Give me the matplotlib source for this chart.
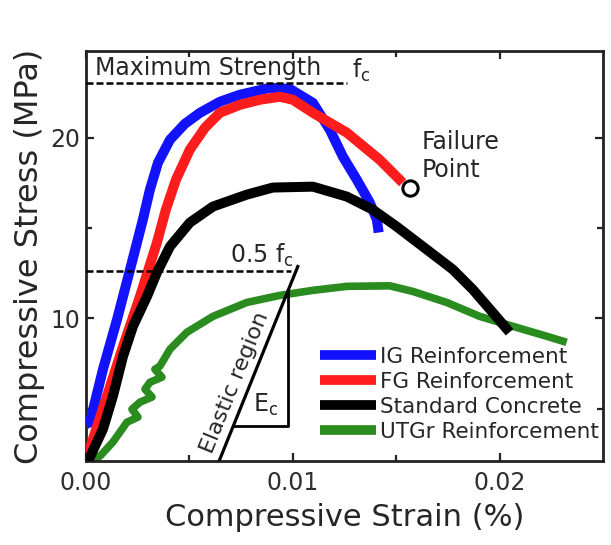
import matplotlib
matplotlib.use("Agg")
import matplotlib.pyplot as plt

# stress-strain curves (strain in %, stress in MPa)
ig_strain = [0.0, 0.00019, 0.00082, 0.0015, 0.00213, 0.00275, 0.00309, 0.00348, 0.00406,
             0.00478, 0.00551, 0.00647, 0.00744, 0.00889, 0.00986, 0.01097, 0.01179,
             0.01242, 0.01309, 0.01372, 0.01406, 0.01415]
ig_stress = [4.14, 4.25, 7.18, 9.94, 12.71, 15.47, 17.13, 18.62, 19.89,
             20.77, 21.38, 21.99, 22.38, 22.76, 22.70, 21.93, 20.44,
             18.95, 17.68, 16.41, 15.47, 14.75]

fg_strain = [0.0, 0.0001, 0.00101, 0.00179, 0.00261, 0.00343, 0.00386, 0.00435, 0.00502,
             0.00575, 0.00647, 0.00744, 0.0084, 0.00937, 0.01000, 0.01097, 0.01261,
             0.0142, 0.01531]
fg_stress = [2.30, 2.49, 5.69, 8.45, 11.22, 14.20, 16.02, 17.68, 19.34,
             20.55, 21.38, 21.82, 22.10, 22.27, 22.10, 21.38, 20.28,
             18.78, 17.51]

sc_strain = [0.0001, 0.00082, 0.0013, 0.00179, 0.00227, 0.00295, 0.00343, 0.00406, 0.00502,
             0.00614, 0.00778, 0.00903, 0.01097, 0.01261, 0.01386, 0.01502, 0.01628,
             0.01773, 0.0187, 0.01966, 0.02048]
sc_stress = [2.10, 3.87, 5.69, 7.90, 9.56, 11.22, 12.54, 13.98, 15.30,
             16.19, 16.85, 17.24, 17.29, 16.74, 16.02, 15.08, 13.98,
             12.71, 11.60, 10.33, 9.23]

utgr_strain = [0.00029, 0.00068, 0.0013, 0.00198, 0.00251, 0.00222, 0.00261, 0.00319,
               0.00285, 0.00309, 0.00367, 0.00333, 0.00357, 0.00406, 0.00488, 0.00614,
               0.00778, 0.00937, 0.01097, 0.01261, 0.01469, 0.0158, 0.01744, 0.01903,
               0.02063, 0.02227, 0.02324]
utgr_stress = [2.10, 2.38, 3.15, 4.25, 4.53, 4.97, 5.36, 5.64,
               6.08, 6.46, 6.74, 7.18, 7.35, 8.29, 9.23, 10.11,
               10.88, 11.27, 11.55, 11.77, 11.80, 11.49, 10.88, 10.11,
               9.56, 9.01, 8.67]

labels = ["IG Reinforcement", "FG Reinforcement", "Standard Concrete", "UTGr Reinforcement"]

# annotation values
max_strength = 23.05
half_strength = 12.62
failure_strain = 0.01565
failure_stress = 17.24
elastic_strain = [0.00640, 0.01024]
elastic_stress = [2.0, 12.87]
tri_strain = 0.00976
tri_stress = 4.03

plt.rcParams["font.family"] = ["DejaVu Sans"]
txt = "#262626"

fig = plt.figure(figsize=(6.11, 5.45), dpi=100)
ax = fig.add_axes([0.1408, 0.1541, 0.8462, 0.7523])

style = dict(solid_joinstyle="round", solid_capstyle="butt")
h_utgr, = ax.plot(utgr_strain, utgr_stress, color="#2a8c1e", lw=5.5, zorder=2, **style)
h_ig, = ax.plot(ig_strain, ig_stress, color="#1212ff", lw=7.2, zorder=3, **style)
h_fg, = ax.plot(fg_strain, fg_stress, color="#ff1c1c", lw=7.2, zorder=4, **style)
h_sc, = ax.plot(sc_strain, sc_stress, color="black", lw=7.2, zorder=5, **style)

ax.plot([failure_strain], [failure_stress], marker="o", ms=11, mfc="white",
        mec="black", mew=2.2, zorder=6)

# dashed reference levels
ax.plot([0, 0.0126], [max_strength, max_strength], color="black", lw=1.8,
        ls=(0, (2.8, 1.2)), zorder=7)
ax.plot([0, 0.0099], [half_strength, half_strength], color="black", lw=1.8,
        ls=(0, (2.8, 1.2)), zorder=7)

# elastic region line and slope triangle
ax.plot(elastic_strain, elastic_stress, color="black", lw=2.3, zorder=7)
slope = (elastic_stress[1] - elastic_stress[0]) / (elastic_strain[1] - elastic_strain[0])
tri_left = elastic_strain[0] + (tri_stress - elastic_stress[0]) / slope
tri_top = elastic_stress[0] + (tri_strain - elastic_strain[0]) * slope
ax.plot([tri_left, tri_strain, tri_strain], [tri_stress, tri_stress, tri_top],
        color="black", lw=2.0, zorder=7)

ax.text(0.00043, 23.45, "Maximum Strength", fontsize=17, color=txt, va="baseline")
ax.text(0.01285, 23.3, r"f$_\mathregular{c}$", fontsize=17, color=txt, va="baseline")
ax.text(0.00696, 13.1, r"0.5 f$_\mathregular{c}$", fontsize=17, color=txt, va="baseline")
ax.text(0.00722, 6.45, "Elastic region", fontsize=16, color=txt, rotation=68,
        ha="center", va="center", rotation_mode="anchor")
ax.text(0.00807, 4.81, r"E$_\mathregular{c}$", fontsize=17, color=txt, va="baseline")
ax.text(0.01623, 20.4, "Failure\nPoint", fontsize=17, color=txt, va="top", linespacing=1.2)

ax.set_xlim(0, 0.025)
ax.set_ylim(2.1, 24.8)
ax.set_xticks([0, 0.01, 0.02])
ax.set_xticklabels(["0.00", "0.01", "0.02"])
ax.set_xticks([0.005, 0.015], minor=True)
ax.set_yticks([10, 20])
ax.set_yticks([5, 15], minor=True)
ax.tick_params(which="both", direction="in", top=True, right=True, width=1.6,
               colors="#222222", labelcolor="#2e2e2e", labelsize=17)
ax.tick_params(which="major", length=6, pad=4)
ax.tick_params(which="minor", length=4)
ax.tick_params(axis="x", pad=7)
for sp in ax.spines.values():
    sp.set_linewidth(2.0)
    sp.set_color("#222222")

ax.set_xlabel("Compressive Strain (%)", fontsize=22, color=txt, labelpad=6)
ax.set_ylabel("Compressive Stress (MPa)", fontsize=23, color=txt, labelpad=4)

leg = ax.legend([h_ig, h_fg, h_sc, h_utgr], labels, loc="upper left",
                bbox_to_anchor=(0.4526, 0.278), frameon=False, fontsize=15.5,
                handlelength=2.6, handletextpad=0.2, labelspacing=0.23,
                borderpad=0, borderaxespad=0)
for t in leg.get_texts():
    t.set_color(txt)
for lh in leg.get_lines():
    lh.set_linewidth(7)

fig.savefig("out.png", dpi=100)
